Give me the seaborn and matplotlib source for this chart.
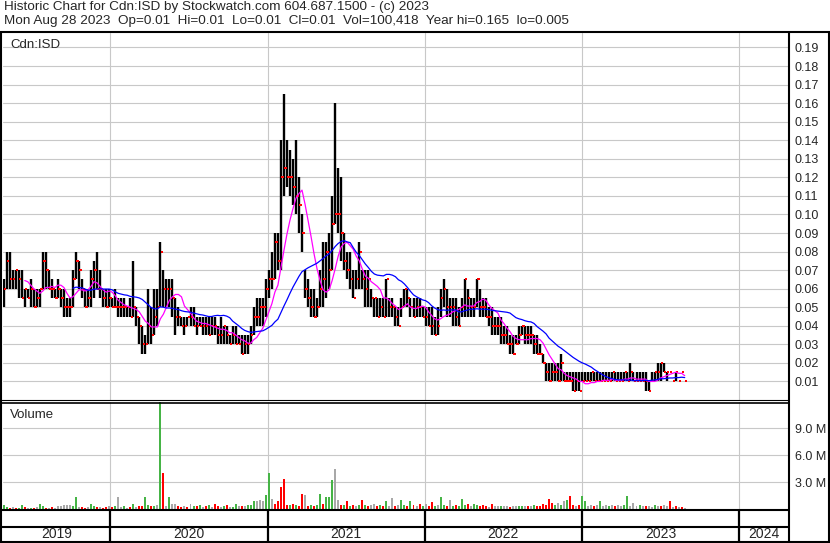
import numpy as np
import pandas as pd
import matplotlib
matplotlib.use("Agg")
import matplotlib.pyplot as plt
import matplotlib.dates as mdates
import seaborn as sns

# ---- data (weekly bars, prices in cents, volume in millions) ----
start_date = "2019-04-29"

hi = [6.5, 8, 8, 7, 7, 7, 7, 6, 6, 6.5,
      6, 6, 6, 8, 8, 7, 6.5, 6, 6.5, 6,
      6, 5.5, 5.5, 7, 8, 7.5, 6.5, 6, 6, 7,
      7.5, 8, 7, 6, 6, 6, 5.5, 6, 5.5, 5.5,
      5.5, 5, 5.5, 7.5, 5, 4.5, 4, 3.5, 6, 5,
      6, 6, 8.5, 7, 6.5, 6.5, 6.5, 5.5, 5, 4.5,
      4.5, 4.5, 5, 5, 4.5, 4.5, 4.5, 4.5, 4.5, 4.5,
      4.5, 4, 4.5, 4, 4, 3.5, 4, 4, 3.5, 3.5,
      3.5, 3.5, 4, 5, 5.5, 5.5, 5.5, 6.5, 7, 8,
      9, 9, 14, 16.5, 14, 13.5, 13, 14, 12, 10,
      7, 6.5, 6, 6, 5.5, 7, 8.5, 8.5, 9, 11,
      16, 12.5, 12, 9, 8, 8, 7, 7, 8.5, 7,
      7, 7, 6, 5.5, 5.5, 5.5, 5.5, 6.5, 5.5, 5.5,
      5, 5, 5.5, 6, 6, 5.5, 5.5, 5.5, 5.5, 5,
      5, 5, 5, 4.5, 5, 6, 6.5, 6, 5.5, 5.5,
      5.5, 5, 5.5, 6.5, 6, 5.5, 5.5, 6.5, 6, 5.5,
      5.5, 5, 5, 4.5, 4.5, 4.5, 4, 4, 3.5, 3.5,
      3.5, 4, 4, 4, 4, 4, 3.5, 3.5, 3, 2.5,
      2, 2, 2, 2, 2, 2.5, 1.5, 1.5, 1.5, 1.5,
      1.5, 1.5, 1.5, 1.5, 1.5, 1.5, 1.5, 1.5, 1.5, 1.5,
      1.5, 1.5, 1.5, 1.5, 1.5, 1.5, 1.5, 1.5, 2, 1.5,
      1.5, 1.5, 1.5, 1.5, 1, 1.5, 1.5, 2, 2, 2,
      1.5, 1.5, 1, 1.5, 1, 1.5, 1]

lo = [5, 6, 6, 6, 6, 5.5, 5.5, 5, 5.5, 5,
      5, 5, 5, 6, 6, 6, 5.5, 5.5, 5.5, 5,
      4.5, 4.5, 4.5, 5, 6.5, 6, 5.5, 5, 5, 5,
      5.5, 6, 5.5, 5, 5, 5, 5, 5, 4.5, 4.5,
      4.5, 4.5, 4.5, 4.5, 4, 3, 2.5, 2.5, 3, 3,
      3.5, 4, 5, 5, 5, 5, 4.5, 3.5, 4, 4,
      3.5, 4, 4, 4, 3.5, 4, 3.5, 3.5, 3.5, 3.5,
      3.5, 3, 3, 3, 3, 3, 3, 3, 3, 2.5,
      2.5, 2.5, 3, 3.5, 4, 4, 4, 4.5, 5.5, 6,
      6.5, 7, 7, 11, 11.5, 11, 10.5, 10, 9, 8,
      5.5, 5, 4.5, 4.5, 4.5, 5, 5, 5.5, 6, 7,
      9.5, 9, 7.5, 7, 6.5, 6, 5.5, 6, 6, 6,
      5, 5, 5, 4.5, 4.5, 4.5, 4.5, 4.5, 4.5, 4.5,
      4, 4, 4.5, 5, 5, 4.5, 4.5, 4.5, 4.5, 4.5,
      4, 4, 3.5, 3.5, 3.5, 4.5, 5, 4.5, 4.5, 4,
      4, 4, 4.5, 4.5, 4.5, 4.5, 4.5, 5, 4.5, 4.5,
      4.5, 4, 3.5, 3.5, 3.5, 3, 3, 3, 2.5, 2.5,
      3, 3, 3.5, 3, 3, 3, 2.5, 2.5, 2.5, 2,
      1, 1, 1, 1, 1, 1, 1, 1, 1, 0.5,
      0.5, 0.5, 1, 1, 1, 1, 1, 1, 1, 1,
      1, 1, 1, 1, 1, 1, 1, 1, 1, 1,
      1, 1, 1, 0.5, 0.5, 1, 1, 1, 1, 1.5,
      1, 1.5, 1, 1, 1, 1.5, 1]

cl = [6, 7.5, 6.5, 6.5, 7, 6.5, 5.5, 6, 5.5, 6,
      5, 5.5, 6, 7.5, 7, 6, 6, 5.5, 6, 5.5,
      5, 5, 5, 6.5, 7.5, 7, 6, 5, 5.5, 6.5,
      7, 6, 6, 5.5, 5, 5.5, 5, 5, 5, 5,
      5, 5, 4.5, 5, 4.5, 4, 3, 3, 4, 3.5,
      4.5, 5, 8, 6, 6, 6, 5.5, 4.5, 4.5, 4,
      4, 4.5, 4.5, 4, 4, 4, 4, 4, 3.5, 4,
      4, 3.5, 3.5, 4, 3.5, 3, 3.5, 3, 3, 2.5,
      3, 3, 3.5, 4.5, 4.5, 5, 5, 6, 6.5, 6.5,
      8.5, 7.5, 12, 12.5, 12, 12, 11.5, 11, 10.5, 9,
      6, 5.5, 5, 4.5, 5, 6, 6.5, 8, 7, 9.5,
      10, 10, 9, 7.5, 7, 6.5, 5.5, 6.5, 8, 6.5,
      6, 6.5, 5.5, 5.5, 4.5, 5, 4.5, 6.5, 5, 5,
      4.5, 4, 5, 6, 5.5, 5, 4.5, 5, 5, 4.5,
      4.5, 4, 4, 3.5, 4, 5.5, 6, 5, 5, 5,
      4.5, 4, 5, 6.5, 5.5, 5, 5, 6.5, 5, 5,
      4.5, 4.5, 4, 4, 4, 3.5, 3.5, 3, 3, 2.5,
      3, 3.5, 4, 3.5, 3.5, 3.5, 3, 2.5, 2.5, 2,
      1.5, 1, 1.5, 1.5, 1, 2, 1, 1, 1, 0.5,
      1, 0.5, 1, 1, 1, 1.5, 1, 1, 1, 1,
      1, 1, 1.5, 1, 1, 1, 1.5, 1, 1.5, 1,
      1, 1, 1, 1, 0.5, 1, 1.5, 1.5, 2, 1.5,
      1.5, 1.5, 1, 1.5, 1, 1.5, 1]

vol_m = [0.45, 0.25, 0.15, 0.2, 0.1, 0.15, 0.4, 0.2, 0.1, 0.15,
         0.1, 0.2, 0.6, 0.3, 0.15, 0.1, 0.2, 0.1, 0.35, 0.3,
         0.4, 0.45, 0.4, 0.35, 1.3, 0.25, 0.2, 0.15, 0.2, 0.6,
         0.3, 0.2, 0.25, 0.15, 0.2, 0.3, 0.25, 0.3, 1.3, 0.2,
         0.3, 0.15, 0.25, 0.6, 0.2, 0.3, 0.35, 1.35, 0.45, 0.3,
         0.35, 0.4, 12.5, 4.0, 0.35, 1.35, 0.6, 0.6, 0.3, 0.25,
         0.3, 0.2, 0.6, 0.35, 0.3, 0.5, 0.25, 0.3, 0.4, 0.2,
         0.6, 0.3, 0.2, 0.3, 0.4, 0.2, 0.25, 0.6, 0.3, 0.35,
         0.3, 0.5, 0.4, 0.9, 0.85, 1.0, 0.9, 1.6, 4.0, 1.1,
         0.6, 0.85, 2.4, 3.3, 0.5, 0.4, 0.6, 0.5, 0.3, 1.7,
         1.6, 0.3, 0.4, 0.35, 0.4, 1.7, 0.6, 1.3, 1.3, 3.2,
         4.5, 1.0, 0.4, 0.5, 0.9, 0.3, 0.4, 0.3, 0.5, 1.0,
         0.4, 0.3, 0.5, 0.6, 0.3, 0.4, 0.3, 0.85, 0.3, 1.2,
         0.3, 0.4, 1.05, 0.4, 0.3, 0.85, 0.4, 0.3, 0.6, 0.3,
         0.6, 0.3, 0.75, 0.3, 0.4, 1.3, 0.4, 0.3, 1.0, 0.35,
         0.45, 0.3, 1.15, 0.4, 0.6, 0.3, 0.6, 0.4, 0.3, 0.45,
         0.3, 0.25, 0.6, 0.3, 0.35, 0.3, 0.35, 0.3, 0.25, 0.3,
         0.35, 0.3, 0.3, 0.35, 0.3, 0.3, 0.45, 0.3, 0.35, 0.6,
         0.5, 1.15, 0.65, 0.4, 0.65, 0.4, 0.85, 1.0, 1.4, 0.45,
         0.3, 0.4, 1.5, 0.85, 0.3, 0.45, 0.3, 0.4, 0.85, 0.3,
         0.4, 0.3, 0.45, 0.3, 0.4, 0.35, 0.45, 1.4, 0.3, 0.65,
         0.3, 0.4, 0.35, 0.3, 0.35, 0.25, 0.45, 0.3, 0.35, 0.4,
         0.3, 0.85, 0.25, 0.35, 0.2, 0.2, 0.15]

# g = up day, r = down day, k = unchanged
vol_dir = list("ggrkrggrkg" "rkggrkrkkk" "kkkggkrrkg" "grkrrkrgkk"
               "gkrgkrrggr" "gkgrkgkkrr" "krkgrgkrgk" "rrkgrkggkr"
               "kgggkkkggk" "rrrrrgrgrr" "krgrggrggg" "kkrgrgrkgr"
               "grkkrgrgkk" "rkggrgrkrg" "krrgkggrkg" "rgggrkggrr"
               "rkrkkgkkrk" "kggkrkgrrr" "rrrgkgkgrr" "krggkkrkgk"
               "kgkrkkggkk" "kgkrkkgkrk" "krkrkrk")

price_ticks = [0.01, 0.02, 0.03, 0.04, 0.05, 0.06, 0.07, 0.08, 0.09, 0.10,
               0.11, 0.12, 0.13, 0.14, 0.15, 0.16, 0.17, 0.18, 0.19]
vol_ticks = [3, 6, 9]
vol_tick_labels = ["3.0 M", "6.0 M", "9.0 M"]
year_labels = ["2019", "2020", "2021", "2022", "2023", "2024"]
year_starts = ["2020-01-01", "2021-01-01", "2022-01-01", "2023-01-01", "2024-01-01"]

title_1 = "Historic Chart for Cdn:ISD by Stockwatch.com 604.687.1500 - (c) 2023"
title_2 = ("Mon Aug 28 2023  Op=0.01  Hi=0.01  Lo=0.01  Cl=0.01  "
           "Vol=100,418  Year hi=0.165  lo=0.005")

# ---- frame ----
sns.set_style("white")
plt.rcParams['font.family'] = ['Liberation Sans', 'DejaVu Sans']
plt.rcParams['font.size'] = 9

W, H = 830, 543
fig = plt.figure(figsize=(W / 100, H / 100), dpi=100)
fig.patch.set_facecolor("white")


def rect(x0, y0, x1, y1):
    # pixel box -> figure fraction
    return [x0 / W, 1 - y1 / H, (x1 - x0) / W, (y1 - y0) / H]


df = pd.DataFrame({"hi": hi, "lo": lo, "cl": cl, "vol": vol_m, "dir": vol_dir})
df["date"] = pd.date_range(start_date, periods=len(df), freq="7D")
df["x"] = mdates.date2num(df["date"])
df["op"] = df["cl"].shift(1).fillna(df["cl"])
df["ma_fast"] = df["cl"].rolling(8).mean() / 100
df["ma_slow"] = df["cl"].rolling(24).mean() / 100

d2020 = mdates.date2num(pd.Timestamp("2020-01-01"))
px_per_day = 0.4305
xl0 = d2020 - 107 / px_per_day
xl1 = d2020 + 679 / px_per_day
ys = [mdates.date2num(pd.Timestamp(s)) for s in year_starts]

grid_c = "#c8c8c8"

# price panel
ax_p = fig.add_axes(rect(3, 33, 789, 400))
ax_p.set_xlim(xl0, xl1)
ax_p.set_ylim(0, 0.1978)
for t in price_ticks:
    ax_p.axhline(t, color=grid_c, lw=0.8, zorder=0)
for x in ys:
    ax_p.axvline(x, color=grid_c, lw=0.8, zorder=0)
ax_p.vlines(df["x"], df["lo"] / 100, df["hi"] / 100, color="black", lw=1.7, zorder=2)
ax_p.scatter(df["x"] - 3, df["op"] / 100, marker="s", s=2.4, color="red", lw=0, zorder=3)
ax_p.scatter(df["x"] + 3, df["cl"] / 100, marker="s", s=2.4, color="red", lw=0, zorder=3)
sns.lineplot(data=df, x="x", y="ma_fast", color="#ff00ff", lw=0.9, ax=ax_p, legend=False, zorder=4)
sns.lineplot(data=df, x="x", y="ma_slow", color="#0000ff", lw=0.9, ax=ax_p, legend=False, zorder=4)
ax_p.set_xlabel("")
ax_p.set_ylabel("")
ax_p.yaxis.tick_right()
ax_p.set_yticks(price_ticks)
ax_p.set_yticklabels([f"{t:.2f}" for t in price_ticks])
ax_p.tick_params(axis="y", length=0, pad=4, labelsize=9)
ax_p.set_xticks([])
for s in ax_p.spines.values():
    s.set_visible(False)
ax_p.text(0.009, 0.985, "Cdn:ISD", transform=ax_p.transAxes, va="top", ha="left", fontsize=9.5)

# volume panel
ax_v = fig.add_axes(rect(3, 402, 789, 509))
ax_v.set_xlim(xl0, xl1)
ax_v.set_ylim(0, 11.9)
for t in vol_ticks:
    ax_v.axhline(t, color=grid_c, lw=0.8, zorder=0)
for x in ys:
    ax_v.axvline(x, color=grid_c, lw=0.8, zorder=0)
vol_colors = {"g": "#46b446", "r": "#ff0000", "k": "#a8a8a8"}
ax_v.bar(df["x"], df["vol"], width=4.6, color=[vol_colors[c] for c in df["dir"]], lw=0, zorder=2)
ax_v.yaxis.tick_right()
ax_v.set_yticks(vol_ticks)
ax_v.set_yticklabels(vol_tick_labels)
ax_v.tick_params(axis="y", length=0, pad=4, labelsize=9)
ax_v.set_xticks([])
for s in ax_v.spines.values():
    s.set_visible(False)
ax_v.text(0.009, 0.93, "Volume", transform=ax_v.transAxes, va="top", ha="left", fontsize=9.5)

# year strip
ax_y = fig.add_axes(rect(3, 509, 789, 542))
ax_y.set_xlim(xl0, xl1)
ax_y.set_ylim(0, 1)
ax_y.axis("off")
edges = [xl0] + ys + [xl1]
for x in ys:
    ax_y.axvline(x, color="black", lw=1.6)
for i, lab in enumerate(year_labels):
    ax_y.text((edges[i] + edges[i + 1]) / 2, 0.24, lab, ha="center", va="center", fontsize=10)

# border lines in pixel coordinates
ax_o = fig.add_axes([0, 0, 1, 1])
ax_o.set_xlim(0, W)
ax_o.set_ylim(H, 0)
ax_o.axis("off")
ax_o.patch.set_alpha(0)
k = dict(color="black", lw=1.5, solid_capstyle="butt")
ax_o.plot([0, W], [32, 32], **k)
ax_o.plot([0, W], [542, 542], **k)
ax_o.plot([1, 1], [32, H], **k)
ax_o.plot([789, 789], [32, H], **k)
ax_o.plot([828.5, 828.5], [32, H], **k)
ax_o.plot([0, 789], [400, 400], color="black", lw=0.8)
ax_o.plot([0, 789], [402.5, 402.5], color="black", lw=1.2)
ax_o.plot([0, 789], [509.5, 509.5], **k)
ax_o.plot([0, 789], [526.5, 526.5], **k)

fig.text(4 / W, 1 - 1 / H, title_1, va="top", ha="left", fontsize=9.7)
fig.text(4 / W, 1 - 15 / H, title_2, va="top", ha="left", fontsize=9.7)

fig.savefig("out.png", dpi=100, facecolor="white")
